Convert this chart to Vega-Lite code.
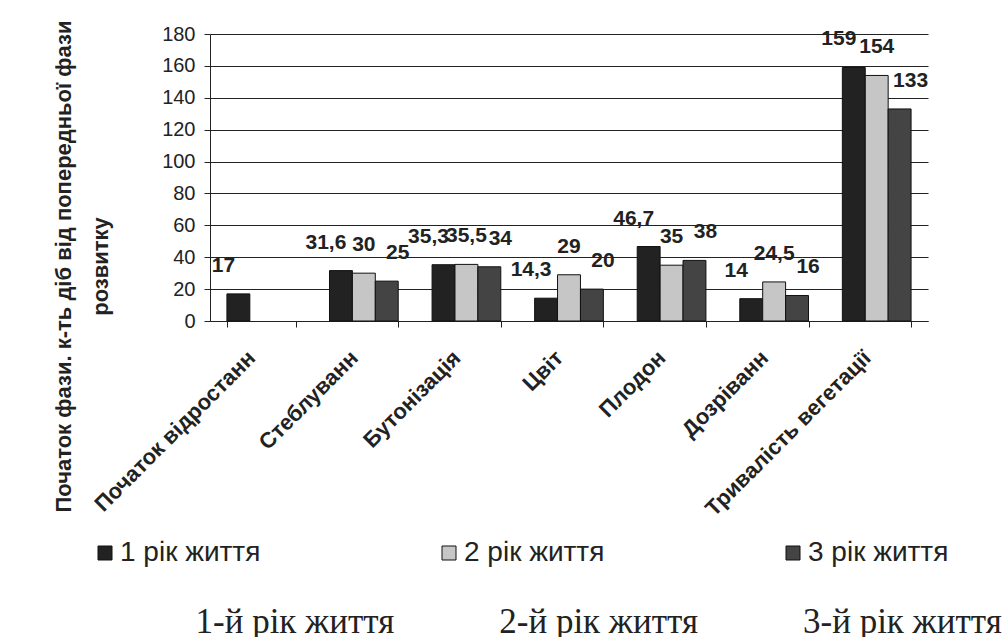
{
  "$schema": "https://vega.github.io/schema/vega-lite/v6.json",
  "width": 718,
  "height": 287,
  "autosize": {"type": "none"},
  "padding": {"left": 210, "top": 34, "right": 77, "bottom": 316},
  "background": "white",
  "config": {
    "view": {"stroke": null},
    "font": "Liberation Sans",
    "axis": {"labelColor": "#222", "titleColor": "#222", "domainColor": "#222", "tickColor": "#222"}
  },
  "data": {
    "values": [
      {"phase": "Початок відростанн", "year": "1 рік життя", "value": 17, "label": "17"},
      {"phase": "Стеблуванн", "year": "1 рік життя", "value": 31.6, "label": "31,6"},
      {"phase": "Стеблуванн", "year": "2 рік життя", "value": 30, "label": "30"},
      {"phase": "Стеблуванн", "year": "3 рік життя", "value": 25, "label": "25"},
      {"phase": "Бутонізація", "year": "1 рік життя", "value": 35.3, "label": "35,3"},
      {"phase": "Бутонізація", "year": "2 рік життя", "value": 35.5, "label": "35,5"},
      {"phase": "Бутонізація", "year": "3 рік життя", "value": 34, "label": "34"},
      {"phase": "Цвіт", "year": "1 рік життя", "value": 14.3, "label": "14,3"},
      {"phase": "Цвіт", "year": "2 рік життя", "value": 29, "label": "29"},
      {"phase": "Цвіт", "year": "3 рік життя", "value": 20, "label": "20"},
      {"phase": "Плодон", "year": "1 рік життя", "value": 46.7, "label": "46,7"},
      {"phase": "Плодон", "year": "2 рік життя", "value": 35, "label": "35"},
      {"phase": "Плодон", "year": "3 рік життя", "value": 38, "label": "38"},
      {"phase": "Дозріванн", "year": "1 рік життя", "value": 14, "label": "14"},
      {"phase": "Дозріванн", "year": "2 рік життя", "value": 24.5, "label": "24,5"},
      {"phase": "Дозріванн", "year": "3 рік життя", "value": 16, "label": "16"},
      {"phase": "Тривалість вегетації", "year": "1 рік життя", "value": 159, "label": "159"},
      {"phase": "Тривалість вегетації", "year": "2 рік життя", "value": 154, "label": "154"},
      {"phase": "Тривалість вегетації", "year": "3 рік життя", "value": 133, "label": "133"}
    ]
  },
  "encoding": {
    "x": {
      "field": "phase",
      "type": "nominal",
      "sort": null,
      "scale": {"paddingInner": 0.33, "paddingOuter": 0.165},
      "axis": {
        "labelAngle": -45,
        "labelAlign": "right",
        "labelBaseline": "middle",
        "labelFontSize": 22,
        "labelFontWeight": "bold",
        "labelPadding": 27,
        "labelOffset": -10,
        "labelLimit": 400,
        "tickBand": "extent",
        "tickSize": 6,
        "domainColor": "#222",
        "title": "1-й рік життя\u00a0\u00a0\u00a0\u00a0\u00a0\u00a0\u00a0\u00a0\u00a0\u00a0\u00a0\u00a02-й рік життя\u00a0\u00a0\u00a0\u00a0\u00a0\u00a0\u00a0\u00a0\u00a0\u00a0\u00a0\u00a03-й рік життя",
        "titleFont": "Liberation Serif",
        "titleFontSize": 35,
        "titleFontWeight": "normal",
        "titleAlign": "left",
        "titleBaseline": "alphabetic",
        "titleX": -15,
        "titleY": 311,
        "titleLimit": 2000
      }
    },
    "xOffset": {"field": "year", "type": "nominal", "scale": {"domain": ["1 рік життя", "2 рік життя", "3 рік життя"]}},
    "y": {
      "field": "value",
      "type": "quantitative",
      "scale": {"domain": [0, 180], "nice": false},
      "axis": {
        "values": [0, 20, 40, 60, 80, 100, 120, 140, 160, 180],
        "labelFontSize": 20,
        "labelPadding": 9,
        "tickSize": 6,
        "grid": true,
        "gridColor": "#222",
        "gridWidth": 1,
        "title": ["Початок фази. к-ть діб від попередньої фази", "розвитку"],
        "titleFontSize": 22,
        "titleFontWeight": "bold",
        "titleAngle": -90,
        "titleAlign": "center",
        "titleBaseline": "middle",
        "titleLineHeight": 37,
        "titleX": -147,
        "titleY": 232,
        "titleLimit": 2000
      }
    }
  },
  "layer": [
    {
      "mark": {"type": "bar", "stroke": "#111", "strokeWidth": 1},
      "encoding": {
        "color": {
          "field": "year",
          "type": "nominal",
          "scale": {"domain": ["1 рік життя", "2 рік життя", "3 рік життя"], "range": ["#222222", "#c6c6c6", "#444444"]},
          "legend": {
            "title": null,
            "orient": "none",
            "legendX": -119,
            "legendY": 505,
            "padding": 0,
            "direction": "horizontal",
            "symbolType": "square",
            "symbolSize": 196,
            "symbolStrokeColor": "#111",
            "symbolStrokeWidth": 1,
            "labelFontSize": 28,
            "labelColor": "#222",
            "labelOffset": 1,
            "labelLimit": 300,
            "columnPadding": 174
          }
        }
      }
    },
    {
      "mark": {
        "type": "text",
        "dy": -28,
        "dx": {"expr": "datum.year === '1 рік життя' ? -15 : datum.year === '3 рік життя' ? 11 : 0"},
        "fontSize": 21,
        "fontWeight": "bold",
        "color": "#222",
        "baseline": "middle"
      },
      "encoding": {"text": {"field": "label", "type": "nominal"}}
    }
  ]
}
